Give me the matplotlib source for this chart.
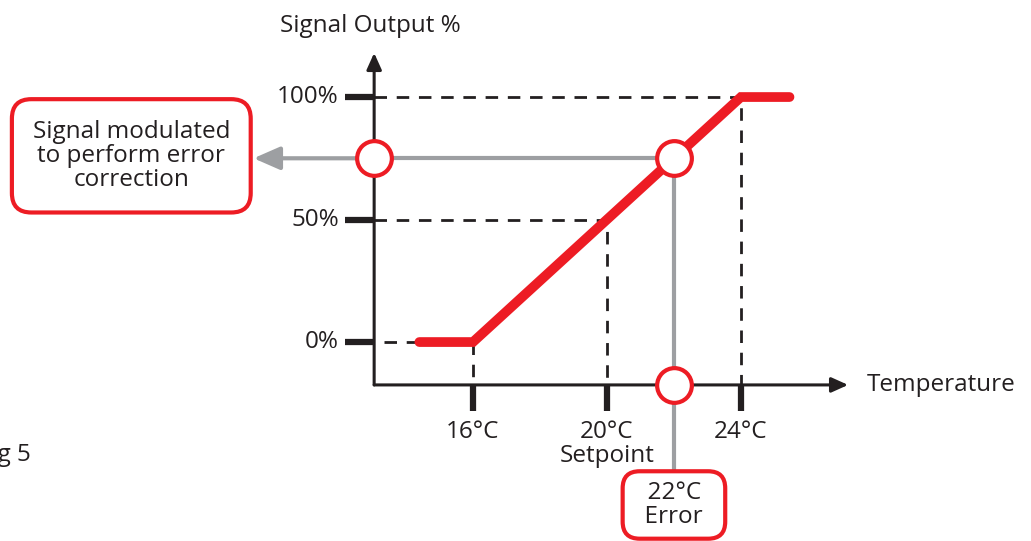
import matplotlib.pyplot as plt

plt.rcParams['font.family'] = ['Open Sans', 'DejaVu Sans']

# controller response curve (temperature degC -> signal %)
curve_temp = [14.4, 16, 24, 25.45]
curve_signal = [0, 0, 100, 100]

y_ticks = [0, 50, 100]
y_tick_labels = ['0%', '50%', '100%']
x_ticks = [16, 20, 24]
x_tick_labels = ['16°C', '20°C\nSetpoint', '24°C']

setpoint = 20
error_temp = 22
error_signal = 75

RED = '#ed1c24'
GREY = '#9d9fa2'
BLACK = '#231f20'
FS = 17.5

# pixel scale: 33.5 px per degree, 2.45 px per percent
x0, y0 = 13.05, -17.5          # where the axes cross
xmin, xmax = 1.88, 32.66
ymin, ymax = -81.2, 139.6

fig = plt.figure(figsize=(10.31, 5.41), dpi=100)
ax = fig.add_axes([0, 0, 1, 1])
ax.set_xlim(xmin, xmax)
ax.set_ylim(ymin, ymax)
ax.axis('off')

dash = dict(color=BLACK, lw=2, dashes=(4.5, 3.5), zorder=1)

# guide lines
ax.plot([x0 + 0.3, curve_temp[0]], [0, 0], **dash)
ax.plot([x0, setpoint, setpoint], [50, 50, y0], **dash)
ax.plot([x0, 24, 24], [100, 100, y0], **dash)
ax.plot([16, 16], [0, y0], **dash)

# error signal lines
ax.plot([x0, error_temp], [error_signal, error_signal], color=GREY, lw=3, zorder=2)
ax.annotate('', xy=(9.45, error_signal), xytext=(x0, error_signal),
            arrowprops=dict(arrowstyle='-|>,head_length=1.6,head_width=0.7',
                            color=GREY, lw=3, shrinkA=0, shrinkB=0), zorder=2)
ax.plot([error_temp, error_temp], [error_signal, -52], color=GREY, lw=3, zorder=2)

# axes with arrows
ax.annotate('', xy=(x0, 118), xytext=(x0, y0),
            arrowprops=dict(arrowstyle='-|>,head_length=1.0,head_width=0.45',
                            color=BLACK, lw=2.2, shrinkA=0, shrinkB=0), zorder=3)
ax.annotate('', xy=(27.2, y0), xytext=(x0, y0),
            arrowprops=dict(arrowstyle='-|>,head_length=1.0,head_width=0.45',
                            color=BLACK, lw=2.2, shrinkA=0, shrinkB=0), zorder=3)

# ticks
for v, lab in zip(y_ticks, y_tick_labels):
    ax.plot([x0 - 0.87, x0], [v, v], color=BLACK, lw=4.5, solid_capstyle='butt', zorder=3)
    ax.text(x0 - 1.05, v, lab, ha='right', va='center', fontsize=FS, color=BLACK)
for v, lab in zip(x_ticks, x_tick_labels):
    ax.plot([v, v], [y0, y0 - 10.5], color=BLACK, lw=4.5, solid_capstyle='butt', zorder=3)
    ax.text(v, y0 - 14.5, lab, ha='center', va='top', fontsize=FS, color=BLACK,
            linespacing=1.0)

# response curve
ax.plot(curve_temp, curve_signal, color=RED, lw=7, solid_capstyle='round',
        solid_joinstyle='miter', zorder=4)

# markers
circ = dict(marker='o', ms=25, mfc='white', mec=RED, mew=3, ls='none', zorder=5)
ax.plot([x0, error_temp, error_temp], [error_signal, error_signal, y0], **circ)

# labels
ax.text(x0 - 0.1, 129, 'Signal Output %', ha='center', va='center', fontsize=FS, color=BLACK)
ax.text(27.75, y0, 'Temperature', ha='left', va='center', fontsize=FS, color=BLACK)
ax.text(2.8, -46, 'Fig 5', ha='right', va='center', fontsize=FS, color=BLACK)

box = dict(boxstyle='round,pad=0.85,rounding_size=0.8', fc='white', ec=RED, lw=3)
ax.text(5.8, 76, 'Signal modulated\nto perform error\ncorrection', ha='center', va='center',
        fontsize=FS, color=BLACK, linespacing=1.0, bbox=box, zorder=6)
ax.text(error_temp, -66.5, '  22°C  \n  Error  ', ha='center', va='center', fontsize=FS,
        color=BLACK, linespacing=1.0, zorder=6,
        bbox=dict(boxstyle='round,pad=0.4,rounding_size=0.7', fc='white', ec=RED, lw=3))

fig.savefig('out.png', dpi=100)
